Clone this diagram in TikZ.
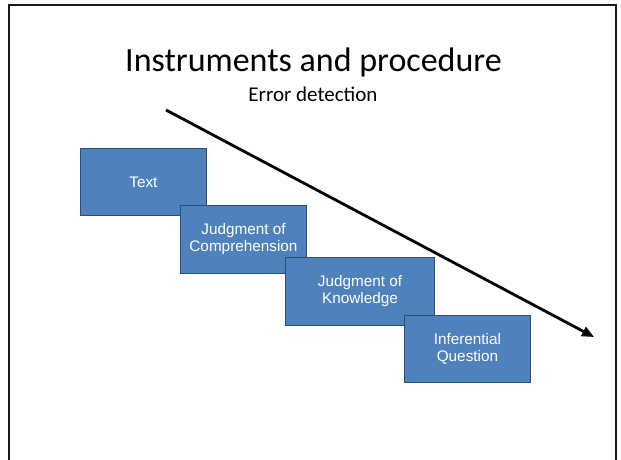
\documentclass[tikz,border=0pt]{standalone}
\usepackage{fontspec}
\setmainfont{Liberation Sans}
\newfontfamily\calibri{Carlito}
\usetikzlibrary{arrows.meta}
\definecolor{boxfill}{HTML}{4F81BD}
\definecolor{boxline}{HTML}{2C4D75}
\begin{document}
\begin{tikzpicture}[x=1pt,y=-1pt,
  stepbox/.style={draw=boxline, line width=0.9pt, fill=boxfill, text=white,
    font=\fontsize{15.3}{17}\selectfont, align=center, inner sep=0pt, anchor=north west},
  framebox/.style={draw=black!90, line width=2.8pt}]
\useasboundingbox (0,0) rectangle (621,459);
\fill[white] (0,0) rectangle (621,459);
\begin{scope}
\clip (0,0) rectangle (621,459);
\draw[framebox] (9,5) rectangle (616,480);
\end{scope}
\node (title) at (313.5,62) {\calibri\fontsize{34}{38}\selectfont Instruments and procedure};
\node (sub) at (313,94) {\calibri\fontsize{21}{24}\selectfont Error detection};
\node[stepbox, minimum width=126pt, minimum height=67pt] (text) at (80,148) {Text};
\node[stepbox, minimum width=126pt, minimum height=68pt] (comp) at (180,205) {Judgment of\\Comprehension};
\node[stepbox, minimum width=149pt, minimum height=68pt] (know) at (285,257) {Judgment of\\Knowledge};
\node[stepbox, minimum width=126pt, minimum height=67pt] (infer) at (404,315) {Inferential\\Question};
\coordinate (astart) at (166,110);
\coordinate (aend) at (594,337);
\draw[line width=2.8pt, -{Triangle[length=12pt,width=10pt]}] (astart) -- (aend);
\end{tikzpicture}
\end{document}
